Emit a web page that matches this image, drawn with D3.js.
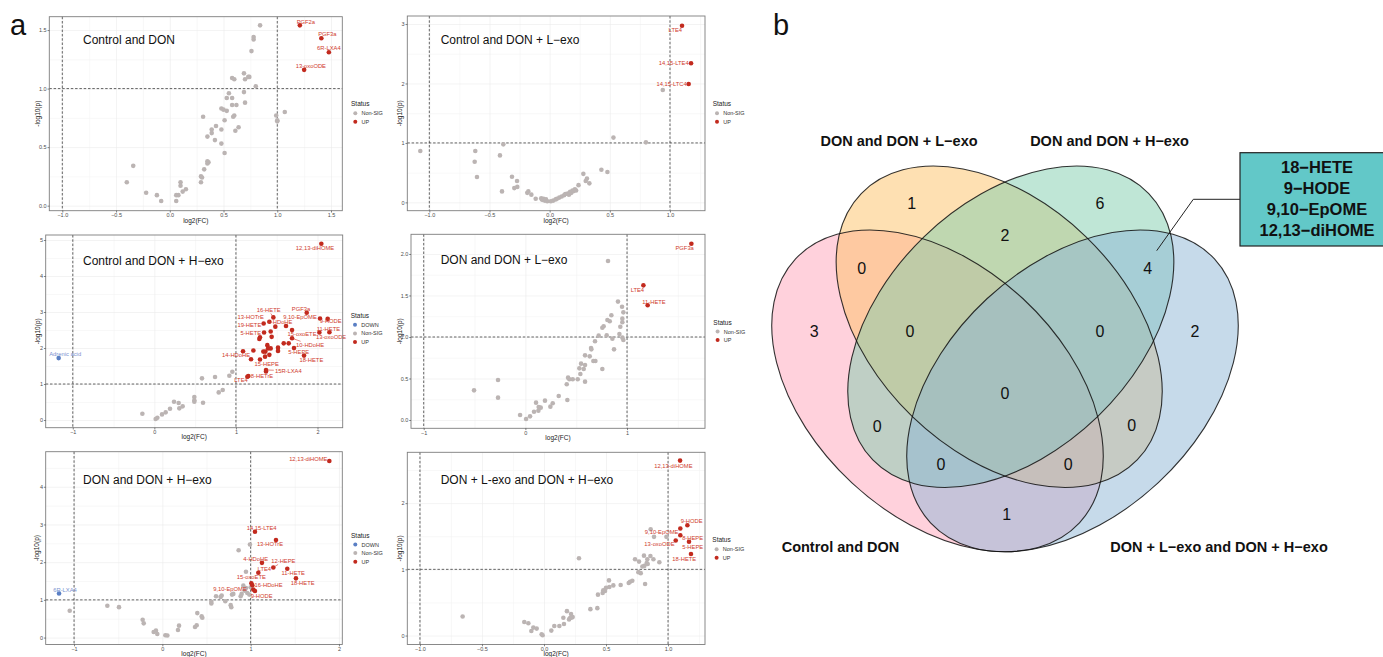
<!DOCTYPE html>
<html lang="en">
<head>
<meta charset="UTF-8">
<title>Volcano plots and Venn</title>
<script src="https://d3js.org/d3.v7.min.js"></script>
<style>
  body{margin:0;background:#fff;}
  svg{font-family:"Liberation Sans",Arial,sans-serif;}
  .tick line{stroke:#333;stroke-width:0.6;}
  .tick text{fill:#4d4d4d;font-size:5.5px;}
  .grid .tick line{stroke:#ebebeb;}
  .grid.minor .tick line{stroke:#f3f3f3;}
  .grid path{display:none;}
</style>
</head>
<body>
<svg width="1383" height="657"></svg>
<script>
// ---------- data ----------
const fcCut = [-1, 1];
const pCut = 1;

// panel 1: Control and DON
const p1Gray = [[0.84,1.54],[0.78,1.44],[0.78,1.42],[0.76,1.32],[0.69,1.13],[0.70,1.08],[0.74,1.10],[0.73,1.10],[0.58,1.09],[0.60,1.08],
  [0.80,1.02],[0.69,0.97],[0.55,0.96],[0.53,0.92],[0.58,0.92],[0.70,0.88],[0.58,0.86],[0.62,0.86],[0.48,0.83],[0.50,0.82],
  [0.53,0.81],[0.31,0.76],[0.60,0.77],[0.59,0.76],[0.51,0.73],[0.43,0.68],[0.64,0.67],[0.39,0.65],[0.48,0.65],[0.39,0.62],
  [0.61,0.64],[0.35,0.59],[0.42,0.56],[0.48,0.53],[0.51,0.45],[0.35,0.38],[0.36,0.37],[0.35,0.36],[0.32,0.31],[0.29,0.25],
  [0.30,0.24],[0.29,0.20],[0.10,0.20],[0.10,0.17],[0.15,0.14],[0.12,0.12],[0.06,0.09],[0.08,0.09],[-0.22,0.11],[-0.12,0.09],
  [-0.08,0.04],[0.06,0.04],[-0.40,0.20],[-0.34,0.34],[0.99,0.77],[1.07,0.80],[1.00,0.73],[1.00,0.72]];
const p1Up = [["PGF2a",1.21,1.54],["PGF3a",1.41,1.43],["6R-LXA4",1.48,1.31],["13-oxoODE",1.25,1.16]];
const p1Down = [];

// panel 2: Control and DON + L-exo
const p2Gray = [[-1.075,0.864],[-0.618,0.864],[-0.623,0.684],[-0.604,0.426],[-0.385,0.976],[-0.413,0.79],[-0.396,0.185],[-0.313,0.43],
  [-0.271,0.36],[-0.269,0.26],[-0.294,0.24],[-0.177,0.185],[-0.186,0.16],[-0.152,0.13],[-0.116,0.06],[-0.07,0.07],[-0.065,0.05],
  [-0.055,0.04],[-0.05,0.06],[-0.04,0.03],[-0.03,0.05],[-0.02,0.02],[0.01,0.02],[0.03,0.03],[0.05,0.05],[0.06,0.06],[0.08,0.08],
  [0.10,0.10],[0.12,0.12],[0.13,0.14],[0.15,0.15],[0.16,0.13],[0.17,0.18],[0.18,0.16],[0.19,0.20],[0.20,0.19],[0.22,0.20],
  [0.21,0.22],[0.24,0.29],[0.28,0.48],[0.30,0.36],[0.31,0.40],[0.33,0.32],[0.43,0.55],[0.48,0.51],[0.53,1.09],[0.80,1.01],[0.94,1.89]];
const p2Up = [["LTE4",1.10,2.97],["14,15-LTE4",1.175,2.34],["14,15-LTC4",1.155,1.99]];
const p2Down = [];

// panel 3: Control and DON + H-exo
const p3Gray = [[-0.147,0.176],[0.016,0.028],[0.037,0.065],[0.094,0.157],[0.139,0.213],[0.192,0.315],[0.241,0.509],[0.298,0.472],
  [0.306,0.324],[0.347,0.38],[0.49,0.639],[0.49,0.546],[0.49,0.51],[0.597,0.48],[0.584,1.157],[0.744,1.194],[0.789,0.768],
  [0.838,0.833],[0.919,1.23],[0.956,1.34]];
const p3Up = [["12,13-diHOME",2.047,4.898],["PGF3a",1.868,2.98],["16-HETE",1.459,2.85],["13-HOTrE",1.41,2.73],["4-HDoHE",1.483,2.593],
  ["19-HETE",1.34,2.68],["5-HETE",1.345,2.43],["9,10-EpOME",1.614,2.61],["9-HODE",2.125,2.81],["11-HETE",2.023,2.43],
  ["13-oxoODE",2.146,2.44],["15-oxoETE",1.688,2.50],["10-HDoHE",1.688,2.27],["5-HEPE",1.712,2.00],["18-HETE",1.835,1.79],
  ["14-HDoHE",1.087,1.91],["15-HEPE",1.295,1.68],["15R-LXA4",1.369,1.39],["8-HETrE",1.152,1.22],["LTE4",1.14,1.20],
  ["",2.031,2.82],["",1.426,2.46],["",1.438,2.31],["",1.295,2.30],["",1.287,2.25],["",1.647,2.13],["",1.586,2.13],
  ["",1.516,2.01],["",1.516,1.92],["",1.385,2.08],["",1.394,1.99],["",1.361,1.90],["",1.336,1.90],["",1.426,1.99],
  ["",1.410,1.81],["",1.357,1.76],["",1.214,1.93],["",1.185,1.69],["",1.369,1.35]];
const p3Down = [["Adrenic acid",-1.173,1.72]];

// panel 4: DON and DON + L-exo
const p4Gray = [[0.813,1.916],[0.911,1.426],[0.951,1.365],[0.964,1.297],[0.954,1.221],[0.954,1.177],[0.934,1.124],[0.925,1.036],
  [0.954,0.992],[0.964,0.964],[0.846,1.261],[0.830,1.189],[0.807,1.205],[0.770,1.129],[0.757,1.112],[0.800,1.020],[0.721,1.016],
  [0.856,0.980],[0.685,0.948],[0.872,0.851],[0.646,0.867],[0.649,0.851],[0.633,0.767],[0.587,0.779],[0.669,0.711],[0.689,0.711],
  [0.548,0.679],[0.531,0.622],[0.541,0.554],[0.574,0.614],[0.587,0.663],[0.587,0.462],[0.757,0.614],[0.515,0.49],[0.466,0.49],
  [0.433,0.49],[0.420,0.51],[0.407,0.43],[0.413,0.241],[0.328,0.289],[0.269,0.201],[0.246,0.161],[0.193,0.233],[0.151,0.149],
  [0.128,0.112],[0.131,0.157],[0.105,0.209],[0.085,0.10],[0.046,0.044],[0.007,0.012],[-0.052,0.06],[-0.269,0.482],
  [-0.269,0.269],[-0.505,0.357]];
const p4Up = [["PGF3a",1.633,2.124],["LTE4",1.161,1.622],["11-HETE",1.203,1.382]];
const p4Down = [];

// panel 5: DON and DON + H-exo
const p5Gray = [[-1.049,0.711],[-0.623,0.842],[-0.491,0.807],[-0.223,0.474],[-0.211,0.377],[-0.098,0.149],[-0.072,0.184],
  [-0.057,0.096],[0.034,0.061],[0.057,0.053],[0.177,0.202],[0.189,0.316],[0.37,0.281],[0.389,0.325],[0.396,0.649],[0.445,0.561],
  [0.453,0.526],[0.555,0.947],[0.555,0.904],[0.608,1.096],[0.66,1.079],[0.672,1.114],[0.713,0.965],[0.774,0.86],[0.781,0.807],
  [0.789,1.14],[0.804,1.158],[0.864,2.316],[0.947,1.746],[0.992,2.47],[0.898,1.158],[0.932,1.246],[0.947,1.316],[0.962,1.184],
  [0.985,1.14],[1.0,1.333],[0.887,1.096],[0.917,1.377]];
const p5Up = [["12,13-diHOME",1.891,4.684],["14,15-LTE4",1.049,2.807],["13-HOTrE",1.287,2.588],["4-HDoHE",1.128,1.982],
  ["12-HEPE",1.257,1.860],["LTE4",1.087,1.719],["11-HETE",1.415,1.825],["18-HETE",1.513,1.570],["15-oxoETE",1.008,1.439],
  ["16-HDoHE",1.019,1.386],["9,10-EpOME",1.030,1.272],["9-HODE",1.049,1.237]];
const p5Down = [["6R-LXA4",-1.170,1.167]];

// panel 6: DON + L-exo and DON + H-exo
const p6Gray = [[-0.656,0.289],[-0.159,0.204],[-0.126,0.185],[-0.102,0.07],[-0.086,0.12],[-0.059,0.105],[-0.019,0.02],[-0.011,0.005],
  [0.059,0.075],[0.083,0.145],[0.124,0.145],[0.156,0.269],[0.161,0.175],[0.185,0.369],[0.202,0.244],[0.218,0.324],[0.21,0.264],
  [0.223,0.274],[0.231,0.279],[0.374,0.399],[0.43,0.414],[0.435,0.618],[0.473,0.643],[0.478,0.683],[0.492,0.673],[0.5,0.723],
  [0.524,0.833],[0.527,0.733],[0.559,0.758],[0.618,0.763],[0.683,0.793],[0.694,0.813],[0.712,0.828],[0.734,1.152],[0.766,1.117],
  [0.761,0.958],[0.78,0.943],[0.793,1.042],[0.809,1.052],[0.815,0.778],[0.828,1.097],[0.836,1.082],[0.833,1.152],[0.858,1.202],
  [0.806,1.207],[0.882,1.152],[0.93,1.107],[0.282,1.167],[0.86,1.606],[0.887,1.491],[0.987,1.491]];
const p6Up = [["12,13-diHOME",1.097,2.643],["9-HODE",1.156,1.666],["9,10-EpOME",1.099,1.616],["8-HEPE",1.099,1.516],
  ["13-oxoODE",1.062,1.436],["5-HEPE",1.169,1.416],["18-HETE",1.185,1.232]];
const p6Down = [];

// Venn
const vennSets = ["Control and DON", "DON and DON + L\u2212exo", "DON and DON + H\u2212exo", "DON + L\u2212exo and DON + H\u2212exo"];
const vennRegions = ["A","B","C","D","AB","BC","CD","ABC","BCD","ABCD","AC","BD","ACD","ABD","AD"];
const vennCounts  = [3, 1, 6, 2, 0, 2, 4, 0, 0, 0, 0, 0, 0, 0, 1];
const vennNote = ["18\u2212HETE", "9\u2212HODE", "9,10\u2212EpOME", "12,13\u2212diHOME"];

// ---------- layout ----------
const M = "\u2212";
const f1 = d => d3.format(".1f")(d).replace("-", M);
const f0 = d => d3.format("d")(d).replace("-", M);

const panels = [
  {title:"Control and DON", tpos:[83,40], box:[49.3,16.7,342.3,210.7], xDom:[-1.121,1.605], yDom:[-0.043,1.614],
   xTicks:[-1,-0.5,0,0.5,1,1.5], yTicks:[0,0.5,1,1.5], xf:f1, yf:f1, yOff:11.6, xOff:9.3,
   gray:p1Gray, up:p1Up, down:p1Down, legend:[351,103.7],
   nudge:{"PGF2a":[6,-3.7],"PGF3a":[6,-4],"6R-LXA4":[0,-4],"13-oxoODE":[6.7,-4]}, seg:[]},
  {title:"Control and DON + L\u2212exo", tpos:[440.7,40], box:[407.3,16,705,210.7], xDom:[-1.183,1.291], yDom:[-0.14,3.135],
   xTicks:[-1,-0.5,0,0.5,1], yTicks:[0,1,2,3], xf:f1, yf:f0, yOff:7.5, xOff:9.3,
   gray:p2Gray, up:p2Up, down:p2Down, legend:[712.7,103.7],
   nudge:{"LTE4":[-6.7,4.3],"14,15-LTE4":[-17.3,0],"14,15-LTC4":[-17,0.3]}, seg:[]},
  {title:"Control and DON + H\u2212exo", tpos:[83,260.7], box:[45.7,235,342.7,427.7], xDom:[-1.332,2.309], yDom:[-0.213,5.139],
   xTicks:[-1,0,1,2], yTicks:[0,1,2,3,4,5], xf:f0, yf:f0, yOff:8, xOff:9,
   gray:p3Gray, up:p3Up, down:p3Down, legend:[350.7,315.3],
   nudge:{"12,13-diHOME":[-6.3,4.7],"PGF3a":[-5.7,-3.7],"16-HETE":[-4.7,-7.3],"13-HOTrE":[-18.7,-4.3],"4-HDoHE":[4.7,-4.7],
     "19-HETE":[-14.3,1.3],"5-HETE":[-13.3,0],"9,10-EpOME":[14,-8.7],"9-HODE":[3,1.7],"11-HETE":[9,-4],"13-oxoODE":[1.7,5],
     "15-oxoETE":[10,3.7],"10-HDoHE":[18,6.3],"5-HEPE":[4.7,4],"18-HETE":[7.3,4.3],"14-HDoHE":[-7,4],"15-HEPE":[6.7,4],
     "15R-LXA4":[22.3,0.7],"8-HETrE":[13.7,0],"LTE4":[-6.3,3],"Adrenic acid":[6.5,-4.3]},
   seg:["16-HETE","10-HDoHE","15R-LXA4"]},
  {title:"DON and DON + L\u2212exo", tpos:[440.7,260], box:[411,234.3,705,428.3], xDom:[-1.125,1.767], yDom:[-0.10,2.237],
   xTicks:[-1,0,1], yTicks:[0,0.5,1,1.5,2], xf:f0, yf:f1, yOff:11.7, xOff:9.3,
   gray:p4Gray, up:p4Up, down:p4Down, legend:[713.3,322],
   nudge:{"PGF3a":[-6.7,4.7],"LTE4":[-6,4.3],"11-HETE":[6.3,-3.7]}, seg:[]},
  {title:"DON and DON + H\u2212exo", tpos:[83,480], box:[45.7,451.7,342.3,644.5], xDom:[-1.321,2.038], yDom:[-0.184,4.93],
   xTicks:[-1,0,1,2], yTicks:[0,1,2,3,4], xf:f0, yf:f0, yOff:9, xOff:8.6,
   gray:p5Gray, up:p5Up, down:p5Down, legend:[351,535],
   nudge:{"12,13-diHOME":[-21,-1.7],"14,15-LTE4":[6.7,-4],"13-HOTrE":[-6,3.7],"4-HDoHE":[-6.3,-3.7],"12-HEPE":[10,-6.3],
     "LTE4":[6,-4],"11-HETE":[6,4.3],"18-HETE":[6.7,4.3],"15-oxoETE":[0,-6.3],"16-HDoHE":[16.3,-0.7],"9,10-EpOME":[-23.3,-1],
     "9-HODE":[6.7,5],"6R-LXA4":[6,-4]}, seg:["12-HEPE"]},
  {title:"DON + L-exo and DON + H\u2212exo", tpos:[440.7,480], box:[407.3,452.3,705,644.5], xDom:[-1.102,1.298], yDom:[-0.135,2.768],
   xTicks:[-1,-0.5,0,0.5,1], yTicks:[0,1,2], xf:f1, yf:f0, yOff:8, xOff:8.6,
   gray:p6Gray, up:p6Up, down:p6Down, legend:[712.3,539.7],
   nudge:{"12,13-diHOME":[-6.7,5],"9-HODE":[4.3,-4],"9,10-EpOME":[-18.7,3.3],"8-HEPE":[12.3,2.7],"13-oxoODE":[-16.3,4],
     "5-HEPE":[3.7,4.7],"18-HETE":[-6.7,5]}, seg:[]}
];

const colUp = "#c22a1e", colUpText = "#cf3b2d", colGray = "#bbb4b3", colDown = "#5a7fc4", colDownText = "#7b92cf";

const svg = d3.select("svg");
svg.append("rect").attr("width",1383).attr("height",657).attr("fill","#fff");

function minors(ticks, dom){
  const step = ticks[1]-ticks[0];
  const out = [];
  for (let v = ticks[0]-step/2; v <= dom[1]; v += step) if (v >= dom[0]) out.push(v);
  return out;
}

function volcano(p){
  const [x0,y0,x1,y1] = p.box;
  const g = svg.append("g");
  const x = d3.scaleLinear().domain(p.xDom).range([x0,x1]);
  const y = d3.scaleLinear().domain(p.yDom).range([y1,y0]);

  // grid
  g.append("g").attr("class","grid minor").attr("transform",`translate(0,${y1})`)
    .call(d3.axisBottom(x).tickValues(minors(p.xTicks,p.xDom)).tickSize(-(y1-y0)).tickFormat(""))
    .selectAll("line").attr("stroke-width",0.4);
  g.append("g").attr("class","grid minor").attr("transform",`translate(${x0},0)`)
    .call(d3.axisLeft(y).tickValues(minors(p.yTicks,p.yDom)).tickSize(-(x1-x0)).tickFormat(""))
    .selectAll("line").attr("stroke-width",0.4);
  g.append("g").attr("class","grid").attr("transform",`translate(0,${y1})`)
    .call(d3.axisBottom(x).tickValues(p.xTicks).tickSize(-(y1-y0)).tickFormat(""))
    .selectAll("line").attr("stroke-width",0.7);
  g.append("g").attr("class","grid").attr("transform",`translate(${x0},0)`)
    .call(d3.axisLeft(y).tickValues(p.yTicks).tickSize(-(x1-x0)).tickFormat(""))
    .selectAll("line").attr("stroke-width",0.7);

  // threshold lines
  g.selectAll(".vcut").data(fcCut).join("line")
    .attr("x1",d=>x(d)).attr("x2",d=>x(d)).attr("y1",y0).attr("y2",y1)
    .attr("stroke","#222").attr("stroke-width",0.7).attr("stroke-dasharray","2.5,1.8");
  g.append("line").attr("x1",x0).attr("x2",x1).attr("y1",y(pCut)).attr("y2",y(pCut))
    .attr("stroke","#222").attr("stroke-width",0.7).attr("stroke-dasharray","2.5,1.8");

  // points
  g.selectAll(".pg").data(p.gray).join("circle")
    .attr("cx",d=>x(d[0])).attr("cy",d=>y(d[1])).attr("r",2.3).attr("fill",colGray);
  const sig = p.up.map(d=>({n:d[0],x:d[1],y:d[2],c:colUp,t:colUpText}))
    .concat(p.down.map(d=>({n:d[0],x:d[1],y:d[2],c:colDown,t:colDownText})));
  g.selectAll(".ps").data(sig).join("circle")
    .attr("cx",d=>x(d.x)).attr("cy",d=>y(d.y)).attr("r",2.3).attr("fill",d=>d.c);

  // labels
  sig.filter(d=>d.n).forEach(d=>{
    const nd = p.nudge[d.n] || [0,-4];
    const px = x(d.x), py = y(d.y), lx = px+nd[0], ly = py+nd[1];
    const t = g.append("text").attr("x",lx).attr("y",ly).attr("text-anchor","middle")
      .attr("dominant-baseline","central").attr("font-size",5.8).attr("fill",d.t).text(d.n);
    if (p.seg.includes(d.n)) {
      const bb = t.node().getBBox();
      const vx = px-lx, vy = py-ly;
      const k = Math.min((bb.width/2+0.8)/Math.abs(vx||1e-6),(bb.height/2+0.3)/Math.abs(vy||1e-6));
      g.append("line").attr("x1",px).attr("y1",py).attr("x2",lx+vx*k).attr("y2",ly+vy*k)
        .attr("stroke",d.t).attr("stroke-width",0.6);
    }
  });

  // border
  g.append("rect").attr("x",x0).attr("y",y0).attr("width",x1-x0).attr("height",y1-y0)
    .attr("fill","none").attr("stroke","#7d7d7d").attr("stroke-width",0.9);

  // axes
  const ax = g.append("g").attr("transform",`translate(0,${y1})`)
    .call(d3.axisBottom(x).tickValues(p.xTicks).tickFormat(p.xf).tickSize(1.8).tickPadding(0.9));
  ax.select(".domain").remove();
  const ay = g.append("g").attr("transform",`translate(${x0},0)`)
    .call(d3.axisLeft(y).tickValues(p.yTicks).tickFormat(p.yf).tickSize(1.8).tickPadding(0.9));
  ay.select(".domain").remove();

  g.append("text").attr("x",(x0+x1)/2).attr("y",y1+p.xOff).attr("text-anchor","middle")
    .attr("dominant-baseline","central").attr("font-size",6.5).attr("fill","#222").text("log2(FC)");
  g.append("text").attr("transform",`translate(${x0-p.yOff},${(y0+y1)/2}) rotate(-90)`).attr("text-anchor","middle")
    .attr("dominant-baseline","central").attr("font-size",6.5).attr("fill","#222").text("-log10(p)");

  // title
  g.append("text").attr("x",p.tpos[0]).attr("y",p.tpos[1]).attr("dominant-baseline","central")
    .attr("font-size",12).attr("fill","#111").text(p.title);

  // legend
  const items = [];
  if (p.down.length) items.push(["DOWN",colDown]);
  items.push(["Non-SIG",colGray]);
  items.push(["UP",colUp]);
  const [lx,ly] = p.legend;
  g.append("text").attr("x",lx).attr("y",ly).attr("dominant-baseline","central")
    .attr("font-size",6.5).attr("fill","#222").text("Status");
  items.forEach((it,i)=>{
    const yy = ly + 9.5 + i*8.6;
    g.append("circle").attr("cx",lx+4.3).attr("cy",yy).attr("r",2).attr("fill",it[1]);
    g.append("text").attr("x",lx+10.5).attr("y",yy).attr("dominant-baseline","central")
      .attr("font-size",5.5).attr("fill","#333").text(it[0]);
  });
}
panels.forEach(volcano);

// panel letters
svg.append("text").attr("x",10).attr("y",35).attr("font-size",29).attr("fill","#111").text("a");
svg.append("text").attr("x",773).attr("y",35).attr("font-size",29).attr("fill","#111").text("b");

// ---------- Venn ----------
const vennShapes = [
  {cx:937.5, cy:390.85, rx:193.8, ry:125.7, rot:42.9, fill:"#ffa3b9"},
  {cx:999.2, cy:326.75, rx:191.8, ry:125.0, rot:44.0, fill:"#fdc165"},
  {cx:1010.8,cy:326.75, rx:191.8, ry:125.0, rot:-44.0, fill:"#7fcdad"},
  {cx:1072.5,cy:390.85, rx:193.8, ry:125.7, rot:-42.9, fill:"#8db5d5"}
];
const vennPos = {A:[814.3,331],B:[911.7,203.3],C:[1100,203.3],D:[1195,331],AB:[861.7,268.3],BC:[1005,235],CD:[1147.7,268.3],
  ABC:[910,331],BCD:[1100,331],ABCD:[1005,393.3],AC:[877.3,426],BD:[1131.7,425],ACD:[941,464.3],ABD:[1068.3,464.3],AD:[1006.7,514]};
const vennLabelPos = [[840.5,546.7],[899,140.7],[1109.5,140.7],[1219,546.7]];

const vg = svg.append("g");
vg.selectAll(".vf").data(vennShapes).join("ellipse")
  .attr("transform",d=>`translate(${d.cx},${d.cy}) rotate(${d.rot})`)
  .attr("rx",d=>d.rx).attr("ry",d=>d.ry).attr("fill",d=>d.fill).attr("fill-opacity",0.5);
vg.selectAll(".vs").data(vennShapes).join("ellipse")
  .attr("transform",d=>`translate(${d.cx},${d.cy}) rotate(${d.rot})`)
  .attr("rx",d=>d.rx).attr("ry",d=>d.ry).attr("fill","none").attr("stroke","#111").attr("stroke-width",1.1)
  .attr("stroke-opacity",0.85);

vg.selectAll(".vn").data(vennRegions).join("text")
  .attr("x",d=>vennPos[d][0]).attr("y",d=>vennPos[d][1]).attr("text-anchor","middle").attr("dominant-baseline","central")
  .attr("font-size",16).attr("fill","#111").text((d,i)=>vennCounts[i]);

vg.selectAll(".vl").data(vennSets).join("text")
  .attr("x",(d,i)=>vennLabelPos[i][0]).attr("y",(d,i)=>vennLabelPos[i][1]).attr("text-anchor","middle")
  .attr("dominant-baseline","central").attr("font-size",14.5).attr("font-weight","bold").attr("fill","#111").text(d=>d);

// annotation box
vg.append("polyline").attr("points","1240,199.3 1193.3,199.3 1156.7,250.7").attr("fill","none")
  .attr("stroke","#222").attr("stroke-width",1);
vg.append("rect").attr("x",1240).attr("y",152.7).attr("width",155).attr("height",93.3)
  .attr("fill","#62c8c8").attr("stroke","#222").attr("stroke-width",1.2);
vg.selectAll(".nt").data(vennNote).join("text")
  .attr("x",1317).attr("y",(d,i)=>167.3+i*21).attr("text-anchor","middle").attr("dominant-baseline","central")
  .attr("font-size",16.5).attr("font-weight","bold").attr("fill","#111").text(d=>d);
</script>
</body>
</html>
